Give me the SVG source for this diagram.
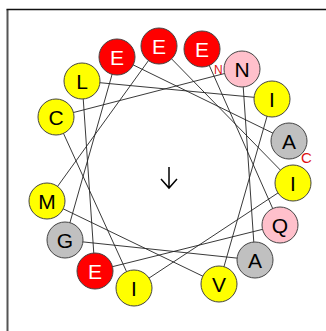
<svg xmlns="http://www.w3.org/2000/svg" width="326" height="331" viewBox="0 0 326 331">
  <style>
    .frame { fill: none; }
    .link { stroke: #222; stroke-width: 0.9; fill: none; }
    .res circle { stroke: #444; stroke-width: 1; }
    .res text { font-family: "Liberation Sans", Arial, sans-serif; font-size: 21px; text-anchor: middle; }
    .hydrophobic circle { fill: #ffff00; }
    .small circle { fill: #c0c0c0; }
    .acidic circle { fill: #ff0000; }
    .polar circle { fill: #ffc0cb; }
    .dark { fill: #000; }
    .light { fill: #fff; }
    .term { font-family: "Liberation Sans", Arial, sans-serif; fill: #dd1111; }
  </style>
  <rect width="326" height="331" fill="#fff"/>
  <!-- page frame (top and left edges) -->
  <path class="frame" d="M7.5 331 V9.5" stroke="#555" stroke-width="2"/>
  <path class="frame" d="M6.5 9.5 H326" stroke="#111" stroke-width="1.3"/>

  <!-- backbone connectors, residue order 1..16 -->
  <g id="connectors">
    <polyline class="link" points="202,49 280,225 95,271 82,81 272,99 219,284 47,201 159,46 293,183 134,288 56,117 242,69 255,260 65,240 117,57 289,141"/>
  </g>

  <!-- hydrophobic moment -->
  <g id="moment">
    <path d="M169 167 V188 M161 179 L169 188 L177 179" stroke="#000" stroke-width="1.5" fill="none"/>
  </g>

  <text class="term" x="214" y="74" font-size="12">N</text>

  <g id="r1" class="res acidic"><circle cx="202" cy="49" r="18"/><text class="light" x="202" y="56.5">E</text></g>
  <g id="r2" class="res polar"><circle cx="280" cy="225" r="18"/><text class="dark" x="280" y="232.5">Q</text></g>
  <g id="r3" class="res acidic"><circle cx="95" cy="271" r="18"/><text class="light" x="95" y="278.5">E</text></g>
  <g id="r4" class="res hydrophobic"><circle cx="82" cy="81" r="18"/><text class="dark" x="82" y="88.5">L</text></g>
  <g id="r5" class="res hydrophobic"><circle cx="272" cy="99" r="18"/><text class="dark" x="272" y="106.5">I</text></g>
  <g id="r6" class="res hydrophobic"><circle cx="219" cy="284" r="18"/><text class="dark" x="219" y="291.5">V</text></g>
  <g id="r7" class="res hydrophobic"><circle cx="47" cy="201" r="18"/><text class="dark" x="47" y="208.5">M</text></g>
  <g id="r8" class="res acidic"><circle cx="159" cy="46" r="18"/><text class="light" x="159" y="53.5">E</text></g>
  <g id="r9" class="res hydrophobic"><circle cx="293" cy="183" r="18"/><text class="dark" x="293" y="190.5">I</text></g>
  <g id="r10" class="res hydrophobic"><circle cx="134" cy="288" r="18"/><text class="dark" x="134" y="295.5">I</text></g>
  <g id="r11" class="res hydrophobic"><circle cx="56" cy="117" r="18"/><text class="dark" x="56" y="124.5">C</text></g>
  <g id="r12" class="res polar"><circle cx="242" cy="69" r="18"/><text class="dark" x="242" y="76.5">N</text></g>
  <g id="r13" class="res small"><circle cx="255" cy="260" r="18"/><text class="dark" x="255" y="267.5">A</text></g>
  <g id="r14" class="res small"><circle cx="65" cy="240" r="18"/><text class="dark" x="65" y="247.5">G</text></g>
  <g id="r15" class="res acidic"><circle cx="117" cy="57" r="18"/><text class="light" x="117" y="64.5">E</text></g>
  <g id="r16" class="res small"><circle cx="289" cy="141" r="18"/><text class="dark" x="289" y="148.5">A</text></g>

  <text class="term" x="301" y="163" font-size="15">C</text>
</svg>
